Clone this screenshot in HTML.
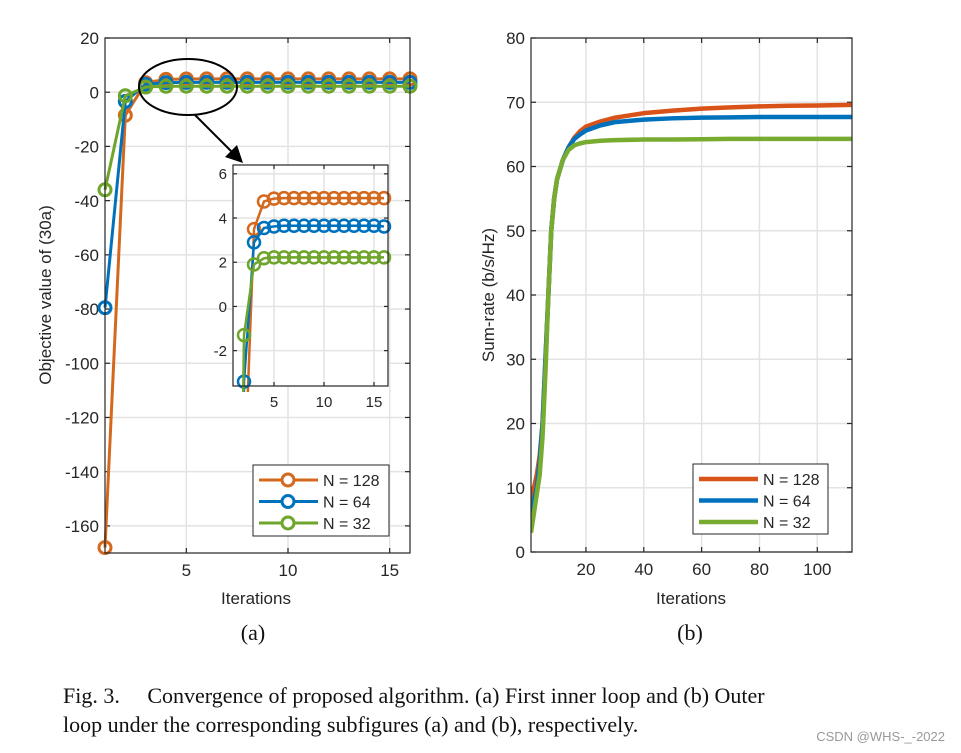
<!DOCTYPE html>
<html><head><meta charset="utf-8"><style>
body{margin:0;background:#fff;width:961px;height:753px;overflow:hidden}
svg{display:block}
text{font-family:"Liberation Sans",sans-serif;fill:#262626}
.cap{font-family:"Liberation Serif",serif;fill:#111}
</style></head><body>
<svg id="s" width="961" height="753">
<text class="cap" x="253" y="640" font-size="22" text-anchor="middle">(a)</text>
<text class="cap" x="690" y="640" font-size="22" text-anchor="middle">(b)</text>
<text class="cap" x="63" y="703" font-size="22">Fig. 3.&#160;&#160;&#160;&#160; Convergence of proposed algorithm. (a) First inner loop and (b) Outer</text>
<text class="cap" x="63" y="732" font-size="22">loop under the corresponding subfigures (a) and (b), respectively.</text>
<text x="945" y="741" font-size="13" text-anchor="end" style="fill:#999">CSDN @WHS-_-2022</text>
</svg>
<script>
// Left chart data
const iterA=[1,2,3,4,5,6,7,8,9,10,11,12,13,14,15,16];
const objN128=[-168,-8.5,3.5,4.75,4.88,4.9,4.9,4.9,4.9,4.9,4.9,4.9,4.9,4.9,4.9,4.9];
const objN64=[-79.5,-3.4,2.9,3.55,3.62,3.65,3.65,3.65,3.65,3.65,3.65,3.65,3.65,3.65,3.65,3.62];
const objN32=[-36,-1.3,1.9,2.18,2.22,2.22,2.22,2.22,2.22,2.22,2.22,2.22,2.22,2.22,2.22,2.22];
const yTicksA=[20,0,-20,-40,-60,-80,-100,-120,-140,-160];
const xTicksA=[5,10,15];
const yTicksInset=[6,4,2,0,-2];
// Right chart data
const iterB=[1,2,3,4,5,6,7,8,9,10,12,14,16,18,20,25,30,40,50,60,70,80,90,100,112];
const rateN128=[8,10,12,15,20,30,40,50,55,58,61,63,64.5,65.5,66.2,67,67.6,68.3,68.7,69,69.2,69.35,69.45,69.5,69.6];
const rateN64=[4,8,10,14,20,30,40,50,55,58,61,63,64.3,65,65.6,66.4,66.9,67.3,67.5,67.6,67.65,67.7,67.7,67.7,67.7];
const rateN32=[3,6,9,12,18,28,40,50,55,58,61,62.6,63.3,63.6,63.8,64,64.1,64.2,64.2,64.25,64.3,64.3,64.3,64.3,64.3];
const xTicksB=[20,40,60,80,100];
const yTicksB=[0,10,20,30,40,50,60,70,80];

const NS="http://www.w3.org/2000/svg";
const svg=document.getElementById('s');
function mk(tag,at,parent){const e=document.createElementNS(NS,tag);for(const k in at)e.setAttribute(k,at[k]);(parent||svg).appendChild(e);return e;}
let clipN=0;
function axes(o){
  const sx=v=>o.x0+(v-o.xmin)/(o.xmax-o.xmin)*(o.x1-o.x0);
  const sy=v=>o.y1-(v-o.ymin)/(o.ymax-o.ymin)*(o.y1-o.y0);
  const g=mk('g',{});
  
  
  const id='clip'+(clipN++);
  const cp=mk('clipPath',{id:id},g);
  const px=o.padX||0,py=o.padY||0;
  mk('rect',{x:o.x0-px,y:o.y0-py,width:o.x1-o.x0+2*px,height:o.y1-o.y0+2*py},cp);
  mk('rect',{x:o.x0,y:o.y0,width:o.x1-o.x0,height:o.y1-o.y0,fill:'#fff'},g);
  o.xt.forEach(v=>{const l=mk('line',{x1:sx(v),x2:sx(v),y1:o.y0,y2:o.y1,stroke:'#e3e3e3','stroke-width':1.5},g);
    });
  o.yt.forEach(v=>{const l=mk('line',{x1:o.x0,x2:o.x1,y1:sy(v),y2:sy(v),stroke:'#e3e3e3','stroke-width':1.5},g);
    });
  const tl=o.tick||5;
  o.xt.forEach(v=>{mk('line',{x1:sx(v),x2:sx(v),y1:o.y1,y2:o.y1-tl,stroke:'#262626','stroke-width':1.2},g);
    mk('line',{x1:sx(v),x2:sx(v),y1:o.y0,y2:o.y0+tl,stroke:'#262626','stroke-width':1.2},g);
    const t=mk('text',{x:sx(v),y:o.y1+o.fs+6,'font-size':o.fs,'text-anchor':'middle'},g);t.textContent=v;
    });
  o.yt.forEach(v=>{mk('line',{x1:o.x0,x2:o.x0+tl,y1:sy(v),y2:sy(v),stroke:'#262626','stroke-width':1.2},g);
    mk('line',{x1:o.x1,x2:o.x1-tl,y1:sy(v),y2:sy(v),stroke:'#262626','stroke-width':1.2},g);
    const t=mk('text',{x:o.x0-6,y:sy(v)+o.fs*0.36,'font-size':o.fs,'text-anchor':'end'},g);t.textContent=v;
    });
  const pg=mk('g',{'clip-path':'url(#'+id+')'},g);
  return {g:pg,sx,sy,box:()=>mk('rect',{x:o.x0,y:o.y0,width:o.x1-o.x0,height:o.y1-o.y0,fill:'none',stroke:'#262626','stroke-width':1.2},g)};
}
function series(ax,xs,ys,color,w,marker,r,name){
  const pts=xs.map((x,i)=>ax.sx(x)+','+ax.sy(ys[i])).join(' ');
  const p=mk('polyline',{points:pts,fill:'none',stroke:color,'stroke-width':w,'stroke-linejoin':'round'},ax.g);
  
  
  if(marker) xs.forEach((x,i)=>{const c=mk('circle',{cx:ax.sx(x),cy:ax.sy(ys[i]),r:r,fill:'none',stroke:color,'stroke-width':w},ax.g);
    });
}
const OR='#D4691E',BL='#0072BD',GR='#6EA52A';
// Left main axes
const A=axes({name:'left-chart',x0:105,x1:410,y0:38,y1:553,xmin:1,xmax:16,ymin:-170,ymax:20,xt:xTicksA,yt:yTicksA,fs:17,padX:10,padY:10});
series(A,iterA,objN128,OR,3,true,6,'series-n128');
series(A,iterA,objN64,BL,3,true,6,'series-n64');
series(A,iterA,objN32,GR,3,true,6,'series-n32');
A.box();
// zoom ellipse and arrow
const el=mk('ellipse',{cx:188,cy:87,rx:49,ry:28,fill:'none',stroke:'#000','stroke-width':2});

const ar=mk('line',{x1:195,y1:115,x2:234,y2:154,stroke:'#000','stroke-width':2});

mk('polygon',{points:'243,163 225,157 237,145',fill:'#000'});
// Inset
const I=axes({name:'inset-chart',x0:233,x1:388,y0:165,y1:386,xmin:0.9,xmax:16.4,ymin:-3.6,ymax:6.4,xt:xTicksA,yt:yTicksInset,fs:15,tick:4,padX:9,padY:6});
series(I,iterA,objN128,OR,2.5,true,6,'inset-n128');
series(I,iterA,objN64,BL,2.5,true,6,'inset-n64');
series(I,iterA,objN32,GR,2.5,true,6,'inset-n32');
I.box();
// Left legend
function legend(x,y,w,h,items,marker,lw,name){
  const g=mk('g',{});
  mk('rect',{x,y,width:w,height:h,fill:'#fff',stroke:'#262626','stroke-width':1},g);
  items.forEach((it,i)=>{const yy=y+15+i*21.5;
    mk('line',{x1:x+6,x2:x+65,y1:yy,y2:yy,stroke:it[1],'stroke-width':lw},g);
    if(marker)mk('circle',{cx:x+35,cy:yy,r:6,fill:'#fff',stroke:it[1],'stroke-width':3},g);
    const t=mk('text',{x:x+70,y:yy+6,'font-size':16},g);t.textContent=it[0];
    });
}
legend(253,465,136,71,[['N = 128',OR],['N = 64',BL],['N = 32',GR]],true,3,'left-legend');
let t=mk('text',{x:256,y:604,'font-size':17,'text-anchor':'middle'});t.textContent='Iterations';

t=mk('text',{x:0,y:0,'font-size':17,'text-anchor':'middle',transform:'translate(51,295) rotate(-90)'});t.textContent='Objective value of (30a)';


// Right chart
const OR2='#D95319',GR2='#77AC30';
const B=axes({name:'right-chart',x0:531,x1:852,y0:38,y1:552,xmin:1,xmax:112,ymin:0,ymax:80,xt:xTicksB,yt:yTicksB,fs:17});
series(B,iterB,rateN128,OR2,4.5,false,0,'rate-n128');
series(B,iterB,rateN64,BL,4.5,false,0,'rate-n64');
series(B,iterB,rateN32,GR2,4.5,false,0,'rate-n32');
B.box();
legend(693,464,135,70,[['N = 128',OR2],['N = 64',BL],['N = 32',GR2]],false,4.5,'right-legend');
t=mk('text',{x:691,y:604,'font-size':17,'text-anchor':'middle'});t.textContent='Iterations';

t=mk('text',{x:0,y:0,'font-size':17,'text-anchor':'middle',transform:'translate(494,295) rotate(-90)'});t.textContent='Sum-rate (b/s/Hz)';

</script>
</body></html>
